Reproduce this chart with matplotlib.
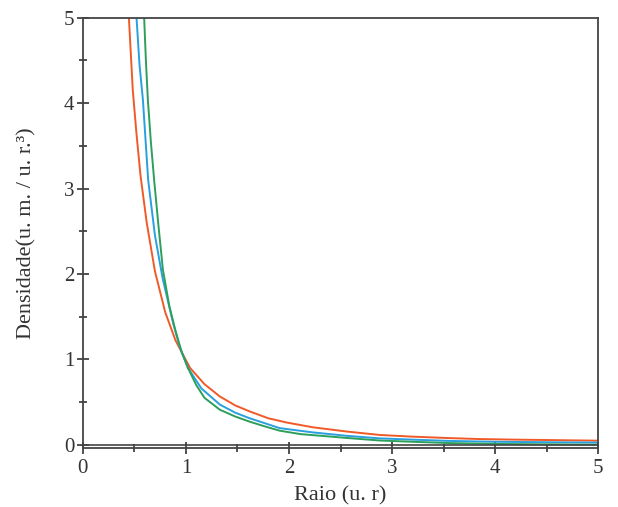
import matplotlib.pyplot as plt
from matplotlib.ticker import MultipleLocator

# values
x_red = [0.42, 0.447, 0.485, 0.52, 0.56, 0.62, 0.70, 0.80, 0.90, 1.04, 1.18, 1.33, 1.48, 1.62,
         1.8, 1.98, 2.23, 2.56, 2.88, 3.2, 3.56, 3.85, 4.2, 4.6, 5.0]
y_red = [5.6, 5.0, 4.15, 3.65, 3.15, 2.6, 2.03, 1.55, 1.22, 0.9, 0.71, 0.565, 0.46, 0.39,
         0.31, 0.26, 0.205, 0.155, 0.115, 0.095, 0.078, 0.067, 0.06, 0.054, 0.048]

x_blue = [0.50, 0.521, 0.55, 0.583, 0.634, 0.70, 0.774, 0.877, 0.94, 1.02, 1.15, 1.33, 1.48,
          1.62, 1.91, 2.23, 2.56, 2.88, 3.2, 3.56, 4.0, 4.5, 5.0]
y_blue = [5.6, 5.0, 4.45, 4.04, 3.10, 2.45, 1.95, 1.42, 1.15, 0.9, 0.66, 0.47, 0.375,
          0.31, 0.195, 0.145, 0.105, 0.075, 0.06, 0.045, 0.035, 0.03, 0.025]

x_green = [0.575, 0.595, 0.612, 0.631, 0.66, 0.692, 0.735, 0.777, 0.84, 0.90, 0.96, 1.02, 1.1,
           1.18, 1.33, 1.48, 1.62, 1.78, 1.91, 2.11, 2.56, 2.88, 3.2, 3.56, 4.0, 4.5, 5.0]
y_green = [5.6, 5.0, 4.5, 4.04, 3.55, 3.10, 2.55, 2.05, 1.62, 1.33, 1.08, 0.9, 0.7,
           0.55, 0.41, 0.33, 0.27, 0.21, 0.165, 0.125, 0.08, 0.05, 0.035, 0.02, 0.01, 0.005, 0.0]

plt.rcParams['font.family'] = ['Liberation Serif', 'DejaVu Serif']

fig = plt.figure(figsize=(6.18, 5.07), dpi=100)
ax = fig.add_axes([0.134, 0.116, 0.834, 0.849])

ax.plot(x_red, y_red, color='#f05a28', lw=1.4)
ax.plot(x_blue, y_blue, color='#2a9fe0', lw=1.4)
ax.plot(x_green, y_green, color='#2ca05a', lw=1.4)
ax.axhline(0, color='#444444', lw=1.2)

ax.set_xlim(0, 5)
ax.set_ylim(-0.04, 5)
ax.xaxis.set_major_locator(MultipleLocator(1))
ax.xaxis.set_minor_locator(MultipleLocator(0.5))
ax.yaxis.set_major_locator(MultipleLocator(1))
ax.yaxis.set_minor_locator(MultipleLocator(0.5))
ax.tick_params(which='major', direction='inout', length=8, width=1.2, color='#333333',
               labelsize=15, labelcolor='#333333', pad=2)
ax.tick_params(axis='x', which='major', pad=4)
ax.tick_params(which='minor', direction='inout', length=6, width=1.2, color='#333333')
for s in ax.spines.values():
    s.set_color('#444444')
    s.set_linewidth(1.3)

ax.set_xlabel('Raio (u. r)', fontsize=16, color='#333333', labelpad=6)
ax.set_ylabel('Densidade(u. m. / u. r.³)', fontsize=16, color='#333333', labelpad=20)

plt.savefig('out.png', dpi=100)
plt.close()
